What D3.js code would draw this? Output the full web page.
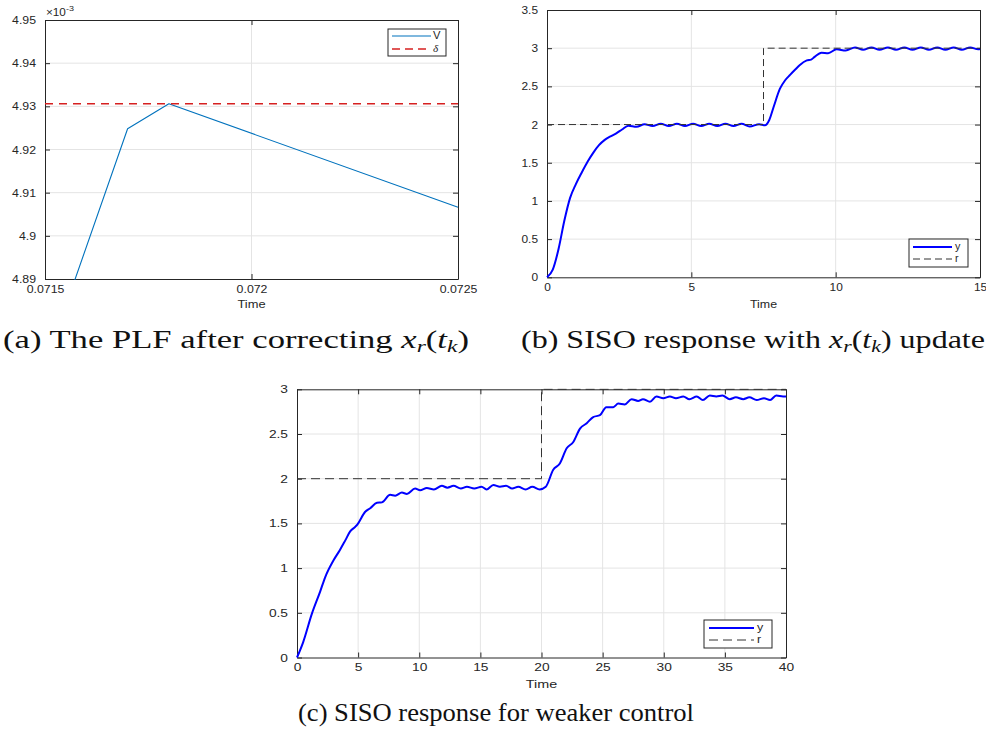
<!DOCTYPE html>
<html><head><meta charset="utf-8">
<script src="https://cdn.jsdelivr.net/npm/d3@7"></script>
<style>body{margin:0;background:#fff}svg{display:block}</style>
</head><body>
<svg id="chart" width="986" height="737"></svg>
<script>
// ---------- Panel (a) data (values in units of 1e-3) ----------
const aTime = [0.0715, 0.0717, 0.0718, 0.0725];
const aV = [4.870, 4.9248, 4.9306, 4.9066];
const aDeltaTime = [0.0715, 0.0725];
const aDelta = [4.9306, 4.9306];
const aXTicks = [0.0715, 0.072, 0.0725];
const aXTickLabels = ["0.0715", "0.072", "0.0725"];
const aYTicks = [4.89, 4.9, 4.91, 4.92, 4.93, 4.94, 4.95];
const aYTickLabels = ["4.89", "4.9", "4.91", "4.92", "4.93", "4.94", "4.95"];
const aLegend = ["V", "δ"];

// ---------- Panel (b) data ----------
const bTime = [0, 0.2, 0.4, 0.6, 0.8, 1.0, 1.2, 1.4, 1.6, 1.8, 2.0, 2.2, 2.4, 2.6, 2.82, 3.1, 3.38, 3.66, 3.94, 4.22, 4.5, 4.78, 5.06, 5.34, 5.62, 5.9, 6.18, 6.46, 6.74, 7.02, 7.35, 7.55, 7.7, 7.85, 8.07, 8.25, 8.42, 8.6, 8.76, 9.0, 9.15, 9.28, 9.51, 9.74, 10.03, 10.35, 10.67, 10.95, 11.24, 11.52, 11.81, 12.09, 12.38, 12.66, 12.95, 13.23, 13.52, 13.8, 14.09, 14.37, 14.66, 14.94, 15];
const bY = [0, 0.1, 0.37, 0.74, 1.04, 1.22, 1.37, 1.51, 1.63, 1.73, 1.8, 1.845, 1.885, 1.935, 1.985, 1.97, 2.005, 1.98, 2.01, 1.98, 2.01, 1.98, 2.01, 1.98, 2.01, 1.98, 2.01, 1.98, 2.01, 1.975, 2.005, 1.99, 2.06, 2.23, 2.47, 2.58, 2.65, 2.72, 2.78, 2.84, 2.85, 2.89, 2.94, 2.935, 2.985, 2.97, 3.01, 2.98, 3.01, 2.98, 3.01, 2.98, 3.01, 2.98, 3.01, 2.98, 3.01, 2.98, 3.01, 2.98, 3.01, 2.985, 2.99];
const bRefTime = [0, 7.5, 7.5, 15];
const bRef = [2, 2, 3, 3];
const bXTicks = [0, 5, 10, 15];
const bXTickLabels = ["0", "5", "10", "15"];
const bYTicks = [0, 0.5, 1, 1.5, 2, 2.5, 3, 3.5];
const bYTickLabels = ["0", "0.5", "1", "1.5", "2", "2.5", "3", "3.5"];

// ---------- Panel (c) data ----------
const cTime = [0, 0.5, 1.22, 1.9, 2.31, 3.0, 3.5, 3.95, 4.35, 4.75, 4.95, 5.58, 5.99, 6.54, 6.94, 7.62, 8.03, 8.58, 8.99, 9.66, 10.07, 10.62, 11.2, 11.85, 12.3, 12.8, 13.4, 13.9, 14.5, 15.1, 15.5, 16.06, 16.6, 17.1, 17.6, 18.1, 18.7, 19.25, 19.85, 20.35, 20.96, 21.5, 22.06, 22.6, 23.15, 23.7, 24.23, 24.78, 25.3, 25.87, 26.28, 26.8, 27.37, 27.9, 28.3, 28.87, 29.4, 29.96, 30.5, 31.0, 31.6, 32.1, 32.7, 33.2, 33.77, 34.3, 34.8, 35.4, 35.9, 36.5, 37.0, 37.6, 38.2, 38.7, 39.2, 39.76, 40];
const cY = [0, 0.17, 0.49, 0.74, 0.9, 1.09, 1.2, 1.31, 1.41, 1.46, 1.49, 1.63, 1.67, 1.73, 1.735, 1.82, 1.81, 1.845, 1.83, 1.89, 1.87, 1.895, 1.88, 1.92, 1.9, 1.92, 1.89, 1.91, 1.89, 1.91, 1.88, 1.93, 1.91, 1.92, 1.89, 1.91, 1.88, 1.91, 1.88, 1.91, 2.1, 2.17, 2.34, 2.41, 2.56, 2.62, 2.69, 2.71, 2.8, 2.8, 2.84, 2.83, 2.89, 2.87, 2.89, 2.86, 2.92, 2.9, 2.92, 2.9, 2.92, 2.89, 2.92, 2.88, 2.93, 2.92, 2.93, 2.89, 2.91, 2.89, 2.91, 2.88, 2.9, 2.88, 2.93, 2.92, 2.92];
const cRefTime = [0, 20, 20, 40];
const cRef = [2, 2, 3, 3];
const cXTicks = [0, 5, 10, 15, 20, 25, 30, 35, 40];
const cXTickLabels = ["0", "5", "10", "15", "20", "25", "30", "35", "40"];
const cYTicks = [0, 0.5, 1, 1.5, 2, 2.5, 3];
const cYTickLabels = ["0", "0.5", "1", "1.5", "2", "2.5", "3"];
const yrLegend = ["y", "r"];

const svg = d3.select("#chart");
const AX = "#262626", GRID = "#e4e4e4";
const FONT = "'Liberation Sans', Arial, Helvetica, sans-serif";

function stretch(sel, s) {
  sel.each(function () {
    const t = d3.select(this);
    const x = +(t.attr("x") || 0);
    t.attr("x", x / s).attr("transform", `scale(${s},1)`);
  });
}

function drawPanel(o) {
  const g = svg.append("g");
  const x = d3.scaleLinear().domain(o.xDomain).range([o.left, o.right]);
  const y = d3.scaleLinear().domain(o.yDomain).range([o.bottom, o.top]);
  // grid
  g.append("g").selectAll("line")
    .data(o.xTicks.filter(v => v > o.xDomain[0] && v < o.xDomain[1])).join("line")
    .attr("x1", d => x(d)).attr("x2", d => x(d)).attr("y1", o.top).attr("y2", o.bottom)
    .attr("stroke", GRID).attr("stroke-width", 1);
  g.append("g").selectAll("line")
    .data(o.yTicks.filter(v => v > o.yDomain[0] && v < o.yDomain[1])).join("line")
    .attr("y1", d => y(d)).attr("y2", d => y(d)).attr("x1", o.left).attr("x2", o.right)
    .attr("stroke", GRID).attr("stroke-width", 1);

  // axes (box, ticks inward)
  const mk = (axis) => axis.tickSizeInner(-5).tickSizeOuter(0);
  const gb = g.append("g").attr("transform", `translate(0,${o.bottom})`)
    .call(mk(d3.axisBottom(x)).tickValues(o.xTicks).tickFormat((d, i) => o.xLabels[i]).tickPadding(6));
  const gl = g.append("g").attr("transform", `translate(${o.left},0)`)
    .call(mk(d3.axisLeft(y)).tickValues(o.yTicks).tickFormat((d, i) => o.yLabels[i]).tickPadding(9));
  const gt = g.append("g").attr("transform", `translate(0,${o.top})`)
    .call(mk(d3.axisTop(x)).tickValues(o.xTicks).tickFormat(() => ""));
  const gr = g.append("g").attr("transform", `translate(${o.right},0)`)
    .call(mk(d3.axisRight(y)).tickValues(o.yTicks).tickFormat(() => ""));
  [gb, gl, gt, gr].forEach(a => {
    a.attr("color", AX).attr("font-family", FONT).attr("font-size", o.fs);
    a.selectAll("path.domain").attr("stroke-width", 1);
    a.selectAll("text").attr("fill", AX);
  });
  stretch(gb.selectAll("text"), o.sx);
  stretch(gl.selectAll("text"), o.sx);

  // data
  const cid = "clip" + o.id;
  svg.append("clipPath").attr("id", cid).append("rect")
    .attr("x", o.left - 1).attr("y", o.top - 1)
    .attr("width", o.right - o.left + 2).attr("height", o.bottom - o.top + 2);
  const plot = g.append("g").attr("clip-path", `url(#${cid})`);
  o.series.forEach(s => {
    const line = d3.line().x(i => x(s.t[i])).y(i => y(s.v[i])).curve(s.curve || d3.curveLinear);
    plot.append("path").datum(d3.range(s.t.length)).attr("d", line)
      .attr("fill", "none").attr("stroke", s.color).attr("stroke-width", s.w)
      .attr("stroke-dasharray", s.dash || null).attr("stroke-linejoin", "round");
  });

  // x label
  const xl = g.append("text").attr("x", (o.left + o.right) / 2).attr("y", o.xlabelY)
    .attr("text-anchor", "middle").attr("font-family", FONT).attr("font-size", o.fs + 0.5)
    .attr("fill", AX).text("Time");
  stretch(xl, o.sx);

  // legend
  const L = o.legend;
  const lg = g.append("g");
  lg.append("rect").attr("x", L.x0).attr("y", L.y0).attr("width", L.x1 - L.x0).attr("height", L.y1 - L.y0)
    .attr("fill", "#fff").attr("stroke", AX).attr("stroke-width", 1);
  L.items.forEach((it, i) => {
    const s = o.series[it.s];
    lg.append("line").attr("x1", L.lx0).attr("x2", L.lx1).attr("y1", L.ys[i]).attr("y2", L.ys[i])
      .attr("stroke", s.color).attr("stroke-width", s.w).attr("stroke-dasharray", s.legDash || s.dash || null);
    const t = lg.append("text").attr("x", L.tx).attr("y", L.ys[i] + 3.5)
      .attr("font-family", it.italic ? "'Liberation Serif', serif" : FONT)
      .attr("font-style", it.italic ? "italic" : null)
      .attr("font-size", L.fs).attr("fill", AX).text(it.label);
    stretch(t, o.sx);
  });
  return { g, x, y };
}

// Panel (a)
drawPanel({
  id: "a", left: 45, right: 458, top: 20, bottom: 279, fs: 11, sx: 1.12,
  xDomain: [0.0715, 0.0725], yDomain: [4.89, 4.95],
  xTicks: aXTicks, xLabels: aXTickLabels, yTicks: aYTicks, yLabels: aYTickLabels,
  xlabelY: 308,
  series: [
    { t: aTime, v: aV, color: "#0072BD", w: 1.1 },
    { t: aDeltaTime, v: aDelta, color: "#D62020", w: 1.6, dash: "8,6", legDash: "8,5" }
  ],
  legend: { x0: 388, x1: 446, y0: 29, y1: 56, lx0: 392, lx1: 431, tx: 433, ys: [36, 49], fs: 10,
    items: [{ s: 0, label: aLegend[0] }, { s: 1, label: aLegend[1], italic: true }] }
});
// x10^-3 multiplier
const mult = svg.append("text").attr("x", 46 / 1.12).attr("y", 16).attr("transform", "scale(1.12,1)")
  .attr("font-family", FONT).attr("font-size", 10.5).attr("fill", AX);
mult.append("tspan").text("×10");
mult.append("tspan").attr("dy", -5).attr("font-size", 8).text("-3");

// Panel (b)
drawPanel({
  id: "b", left: 547, right: 980, top: 10, bottom: 277.3, fs: 11, sx: 1.08,
  xDomain: [0, 15], yDomain: [0, 3.5],
  xTicks: bXTicks, xLabels: bXTickLabels, yTicks: bYTicks, yLabels: bYTickLabels,
  xlabelY: 308,
  series: [
    { t: bTime, v: bY, color: "#0000FF", w: 2, curve: d3.curveMonotoneX },
    { t: bRefTime, v: bRef, color: "#333", w: 1, dash: "7,4" }
  ],
  legend: { x0: 909, x1: 968, y0: 239, y1: 267, lx0: 913, lx1: 952, tx: 955, ys: [247, 259], fs: 10,
    items: [{ s: 0, label: yrLegend[0] }, { s: 1, label: yrLegend[1] }] }
});

// Panel (c)
drawPanel({
  id: "c", left: 297, right: 786, top: 389.3, bottom: 657.5, fs: 11, sx: 1.25,
  xDomain: [0, 40], yDomain: [0, 3],
  xTicks: cXTicks, xLabels: cXTickLabels, yTicks: cYTicks, yLabels: cYTickLabels,
  xlabelY: 688,
  series: [
    { t: cTime, v: cY, color: "#0000FF", w: 2, curve: d3.curveMonotoneX },
    { t: cRefTime, v: cRef, color: "#333", w: 1, dash: "9,5" }
  ],
  legend: { x0: 704, x1: 772, y0: 620, y1: 648, lx0: 709, lx1: 754, tx: 757, ys: [628, 640], fs: 10,
    items: [{ s: 0, label: yrLegend[0] }, { s: 1, label: yrLegend[1] }] }
});

// Captions
const CF = "'Liberation Serif', 'Times New Roman', serif";
function caption(cx, by, width, parts) {
  const t = svg.append("text").attr("x", cx).attr("y", by).attr("text-anchor", "middle")
    .attr("font-family", CF).attr("font-size", 25).attr("fill", "#111");
  if (width) t.attr("textLength", width).attr("lengthAdjust", "spacingAndGlyphs");
  parts.forEach(p => {
    const ts = t.append("tspan").text(p.s);
    if (p.i) ts.attr("font-style", "italic");
    if (p.sub) ts.attr("font-size", 17).attr("dy", 4);
    if (p.up) ts.attr("dy", -4);
  });
}
caption(236, 348, 466, [{ s: "(a) The PLF after correcting " }, { s: "x", i: 1 }, { s: "r", i: 1, sub: 1 }, { s: "(", up: 1 }, { s: "t", i: 1 }, { s: "k", i: 1, sub: 1 }, { s: ")", up: 1 }]);
caption(753, 348, 464, [{ s: "(b) SISO response with " }, { s: "x", i: 1 }, { s: "r", i: 1, sub: 1 }, { s: "(", up: 1 }, { s: "t", i: 1 }, { s: "k", i: 1, sub: 1 }, { s: ")", up: 1 }, { s: " update" }]);
caption(496, 721, 396, [{ s: "(c) SISO response for weaker control" }]);
</script>
</body></html>
